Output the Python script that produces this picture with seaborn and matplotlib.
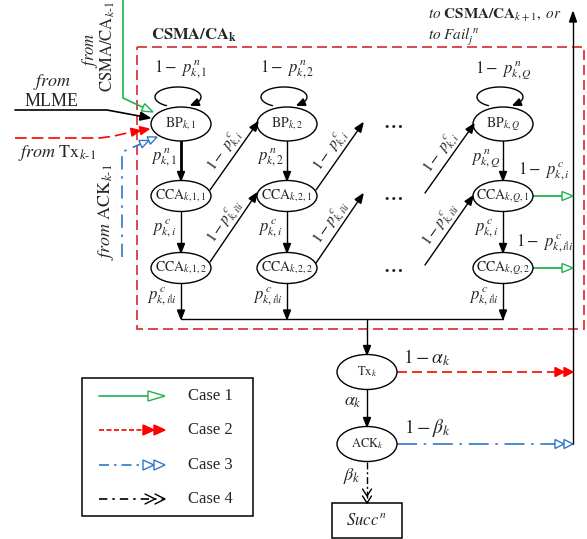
import numpy as np
import matplotlib
matplotlib.use("Agg")
import matplotlib.pyplot as plt
from matplotlib.patches import Ellipse, Rectangle, Polygon
import seaborn as sns

sns.set_theme(style="white")
plt.rcParams['font.family'] = ['Liberation Serif', 'DejaVu Serif']
plt.rcParams['mathtext.fontset'] = 'stix'

GREEN = '#22b24c'
RED = '#ff0000'
BOX_RED = '#d42b2b'
BLUE = '#2f78c8'

# chain layout: columns BP_k,1 / BP_k,2 / BP_k,Q and rows BP, CCA1, CCA2
col_x = [181, 287, 503]
row_y = [124, 196, 268]
bp_labels = [r'$\mathrm{BP}_{k,1}$', r'$\mathrm{BP}_{k,2}$', r'$\mathrm{BP}_{k,Q}$']
cca1_labels = [r'$\mathrm{CCA}_{k,1,1}$', r'$\mathrm{CCA}_{k,2,1}$', r'$\mathrm{CCA}_{k,Q,1}$']
cca2_labels = [r'$\mathrm{CCA}_{k,1,2}$', r'$\mathrm{CCA}_{k,2,2}$', r'$\mathrm{CCA}_{k,Q,2}$']
loop_labels = [r'$1-\ p^{\,n}_{k,1}$', r'$1-\ p^{\,n}_{k,2}$', r'$1-\ p^{\,n}_{k,Q}$']
pn_labels = [r'$p^{\,n}_{k,1}$', r'$p^{\,n}_{k,2}$', r'$p^{\,n}_{k,Q}$']
pc_label = r'$p^{\,c}_{k,i}$'
pcc_label = r'$p^{\,c}_{k,i|i}$'
diag_top_label = r'$1-\ p^{\,c}_{k,i}$'
diag_bot_label = r'$1-p^{\,c}_{k,i|i}$'

# diagonal transitions (start, end)
diag_top = [((210, 190), (258, 122)), ((316, 190), (363, 123)), ((425, 193), (474, 124))]
diag_bot = [((210, 262), (257, 193)), ((316, 263), (363, 194)), ((425, 265), (473, 196))]
dots_x = 393

# lower part
tx_xy = (367, 372)
ack_xy = (367, 444)
bus_y = 319
right_x = 573

# incoming paths on the left
green_in = ([123, 123, 153], [0, 98, 112])
black_in = ([15, 107, 150], [110, 110, 118])
red_in = ([15, 100, 114, 127, 149], [138, 138, 136, 133, 129])
blue_in = ([122, 122, 157], [257, 152, 137])

# legend
legend_names = ['Case 1', 'Case 2', 'Case 3', 'Case 4']
legend_y = [396, 430, 465, 499]

fig = plt.figure(figsize=(5.87, 5.39), dpi=100)
ax = fig.add_axes([0, 0, 1, 1])
ax.set_xlim(0, 587)
ax.set_ylim(539, 0)
ax.axis('off')


def head(tip, frm, color, kind='fill', n=1, L=9, W=7, lw=1):
    tip = np.array(tip, float)
    frm = np.array(frm, float)
    u = (tip - frm) / np.linalg.norm(tip - frm)
    nrm = np.array([-u[1], u[0]])
    for i in range(n):
        t = tip - i * L * u
        b = t - L * u
        p1, p2 = b + W / 2 * nrm, b - W / 2 * nrm
        if kind == 'chev':
            ax.plot([p1[0], t[0], p2[0]], [p1[1], t[1], p2[1]], color=color, lw=lw, zorder=5)
        else:
            ax.add_patch(Polygon([t, p1, p2], closed=True, lw=lw, zorder=5,
                                 fc=color if kind == 'fill' else 'white', ec=color))


def arrow(xs, ys, color='black', ls='-', kind='fill', n=1, lw=1, L=9, W=7):
    pts = np.column_stack([xs, ys]).astype(float)
    tip, frm = pts[-1], pts[-2]
    u = (tip - frm) / np.linalg.norm(tip - frm)
    line = pts.copy()
    if kind != 'chev':
        line[-1] = tip - n * L * u
    ax.plot(line[:, 0], line[:, 1], color=color, ls=ls, lw=lw, zorder=3)
    head(tip, frm, color, kind, n, L, W, lw=1)


def node(xy, label, w=60, h=33, fs=10):
    ax.add_patch(Ellipse(xy, w, h, fc='white', ec='black', lw=1, zorder=4))
    ax.text(xy[0], xy[1], label, ha='center', va='center', fontsize=fs, zorder=6)


# dashed CSMA/CA_k frame
ax.add_patch(Rectangle((137, 47), 447, 282, fill=False, ec=BOX_RED, lw=1.2,
                       ls=(0, (6, 3)), zorder=1))
ax.text(151, 35, r'$\mathbf{CSMA/CA}_{\mathbf{k}}$', fontsize=12, ha='left', va='center')

for j, x in enumerate(col_x):
    node((x, row_y[0]), bp_labels[j], h=34)
    node((x, row_y[1]), cca1_labels[j], h=31)
    node((x, row_y[2]), cca2_labels[j], h=31)

    # self loop above BP
    cx, cy, a, b = x - 3, 97, 23, 10
    t = np.radians(np.linspace(-120, -415, 80))
    lx, ly = cx + a * np.cos(t), cy - b * np.sin(t)
    ax.plot(lx[:-3], ly[:-3], color='black', lw=1, zorder=3)
    head((lx[-1], ly[-1]), (lx[-6], ly[-6]), 'black', L=8, W=7)
    ax.text(x, 70, loop_labels[j], fontsize=12, ha='center', va='center')

    # vertical transitions
    arrow([x, x], [row_y[0] + 17, row_y[1] - 15.5], lw=2 if j == 0 else 1)
    arrow([x, x], [row_y[1] + 15.5, row_y[2] - 15.5])
    arrow([x, x], [row_y[2] + 15.5, bus_y])
    ax.text(x - 17, 158, pn_labels[j], fontsize=12, ha='center', va='center')
    ax.text(x - 17, 229, pc_label, fontsize=12, ha='center', va='center')
    ax.text(x - 19, 297, pcc_label, fontsize=12, ha='center', va='center')

    # diagonal transitions
    for (s, e), lab in ((diag_top[j], diag_top_label), (diag_bot[j], diag_bot_label)):
        arrow([s[0], e[0]], [s[1], e[1]])
        d = np.array(e, float) - np.array(s, float)
        u = d / np.linalg.norm(d)
        mid = (np.array(s) + np.array(e)) / 2 + 10 * np.array([u[1], -u[0]])
        ang = np.degrees(np.arctan2(-d[1], d[0]))
        ax.text(mid[0], mid[1], lab, fontsize=11, rotation=ang, ha='center',
                va='center', rotation_mode='anchor')

for y in row_y:
    ax.text(dots_x, y, '\u2026', fontsize=14, fontweight='bold', ha='center', va='center')

# exits of the last column
arrow([col_x[2] + 30, right_x], [row_y[1], row_y[1]], GREEN, kind='open', L=11, W=9, lw=1.3)
arrow([col_x[2] + 30, right_x], [row_y[2], row_y[2]], GREEN, kind='open', L=11, W=9, lw=1.3)
ax.text(544, 172, r'$1-\ p^{\,c}_{k,i}$', fontsize=12, ha='center', va='center')
ax.text(545, 244, r'$1-\ p^{\,c}_{k,i|i}$', fontsize=12, ha='center', va='center')

# bus and transmission part
ax.plot([col_x[0], col_x[2]], [bus_y, bus_y], color='black', lw=1, zorder=3)
arrow([tx_xy[0], tx_xy[0]], [bus_y, tx_xy[1] - 17.5])
node(tx_xy, r'$\mathrm{Tx}_{k}$', h=35, fs=9)
node(ack_xy, r'$\mathrm{ACK}_{k}$', h=35, fs=9)
arrow([tx_xy[0], tx_xy[0]], [tx_xy[1] + 17.5, ack_xy[1] - 17.5])
ax.text(353, 402, r'$\alpha_k$', fontsize=13, ha='center', va='center')
arrow([ack_xy[0], ack_xy[0]], [ack_xy[1] + 17.5, 503], ls=(0, (5, 2, 1.5, 2)), kind='chev', n=2, L=7, W=9)
ax.text(352, 476, r'$\beta_k$', fontsize=13, ha='center', va='center')
ax.add_patch(Rectangle((332, 503), 70, 35, fill=False, ec='black', lw=1.1))
ax.text(367, 521, r'$\mathit{Succ}^{\,n}$', fontsize=12, ha='center', va='center')

arrow([tx_xy[0] + 30, right_x], [tx_xy[1], tx_xy[1]], RED, ls=(0, (6, 3)), kind='fill', n=2, L=9, W=9, lw=1.2)
arrow([ack_xy[0] + 30, right_x], [ack_xy[1], ack_xy[1]], BLUE, ls=(0, (12, 4, 1.5, 4)), kind='open', n=2, L=9, W=9, lw=1.2)
ax.text(427, 358, r'$1-\alpha_k$', fontsize=14, ha='center', va='center')
ax.text(427, 428, r'$1-\beta_k$', fontsize=14, ha='center', va='center')

arrow([right_x, right_x], [ack_xy[1], 12], L=10, W=7)
ax.text(428, 15, r'$\mathit{to}\ \mathbf{CSMA/CA}_{k+1}\mathit{,\ or}$', fontsize=11, ha='left', va='center')
ax.text(428, 37, r'$\mathit{to\ Fail}^{\,n}_{j}$', fontsize=11, ha='left', va='center')

# incoming transitions
arrow(*green_in, GREEN, kind='open', L=11, W=8, lw=1.2)
arrow(*black_in, 'black', kind='fill', L=10, W=8, lw=1.2)
arrow(*red_in, RED, ls=(0, (7, 3)), kind='fill', n=2, L=9, W=8, lw=1.2)
arrow(*blue_in, BLUE, ls=(0, (8, 4, 1.5, 4)), kind='open', n=2, L=9, W=8, lw=1.2)
ax.text(52, 82, r'$\mathit{from}$', fontsize=13, ha='center', va='center')
ax.text(52, 101, 'MLME', fontsize=13, ha='center', va='center')
ax.text(18, 153, r'$\mathit{from}\ \mathrm{Tx}_{k\text{-}1}$', fontsize=13, ha='left', va='center')
ax.text(90, 50, r'$\mathit{from}$', fontsize=12, rotation=90, ha='center', va='center')
ax.text(108, 47, r'$\mathrm{CSMA/CA}_{k\text{-}1}$', fontsize=12, rotation=90, ha='center', va='center')
ax.text(106, 212, r'$\mathit{from}\ \mathrm{ACK}_{k\text{-}1}$', fontsize=13, rotation=90, ha='center', va='center')

# legend
ax.add_patch(Rectangle((82, 378), 171, 138, fill=False, ec='black', lw=1.1))
legend_styles = [
    dict(color=GREEN, ls='-', kind='open', n=1, L=17, W=10),
    dict(color=RED, ls=(0, (3, 1.5)), kind='fill', n=2, L=11, W=10),
    dict(color=BLUE, ls=(0, (6, 3, 1.5, 3)), kind='open', n=2, L=11, W=10),
    dict(color='black', ls=(0, (5, 3, 1.5, 3)), kind='chev', n=2, L=10, W=10),
]
for name, y, st in zip(legend_names, legend_y, legend_styles):
    arrow([99, 165], [y, y], lw=1.2, **st)
    ax.text(188, y, name, fontsize=12, ha='left', va='center')

fig.savefig('out.png', dpi=100)
